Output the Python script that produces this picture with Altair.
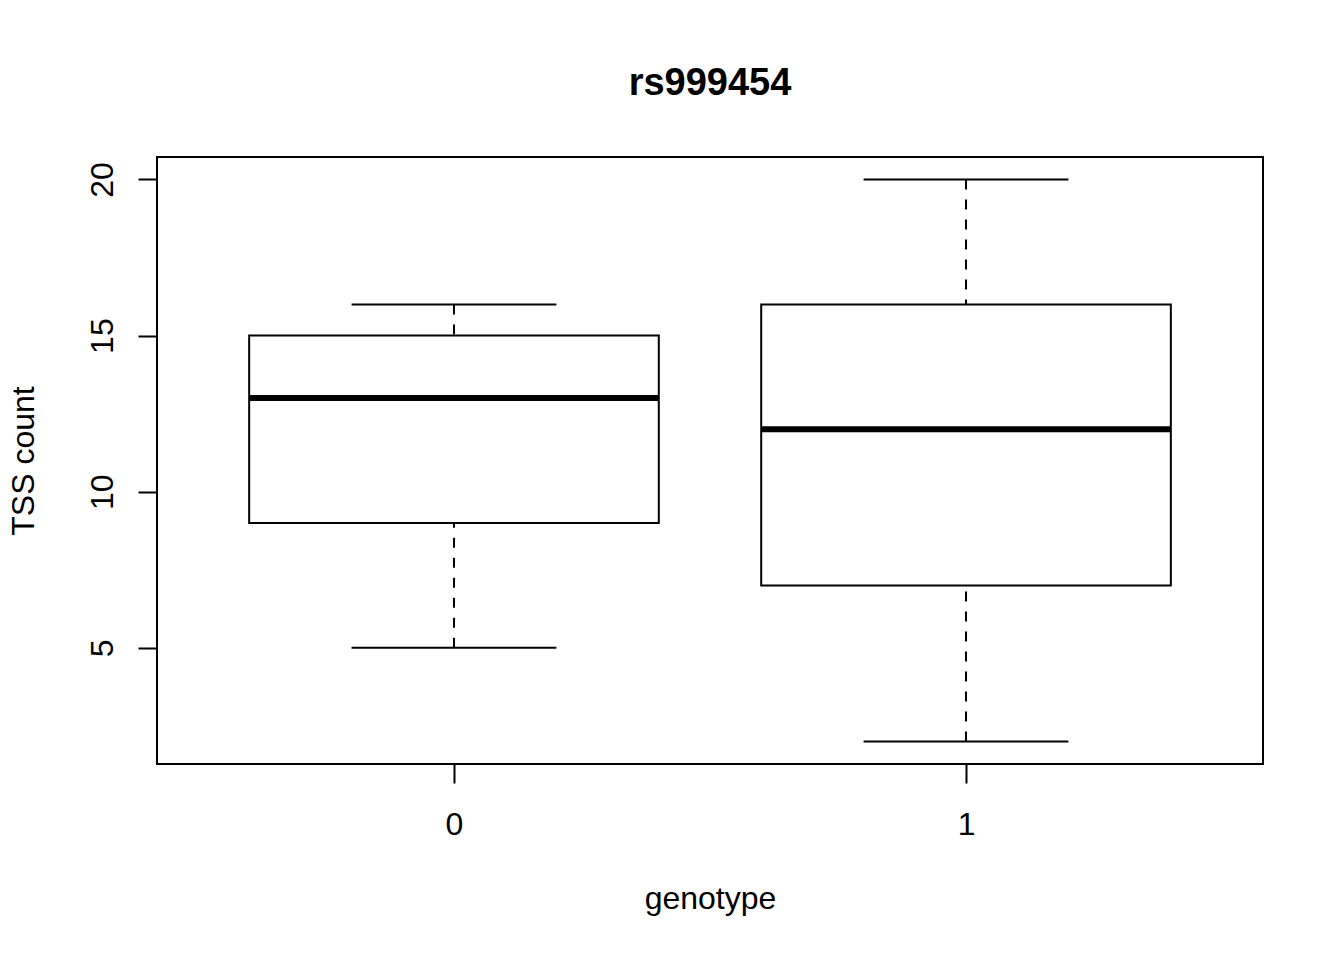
import altair as alt
import pandas as pd

genotype = ["0", "1"]
whisker_low = [5, 2]
q1 = [9, 7]
median = [13, 12]
q3 = [15, 16]
whisker_high = [16, 20]

df = pd.DataFrame({
    "genotype": genotype,
    "pos": [i + 1 for i in range(len(genotype))],
    "low": whisker_low,
    "q1": q1,
    "median": median,
    "q3": q3,
    "high": whisker_high,
})

FONT = "Liberation Sans"
label_expr = " : ".join(
    [f"datum.value == {i + 1} ? '{g}'" for i, g in enumerate(genotype)]
) + " : ''"

xscale = alt.Scale(domain=[0.42, 2.58], nice=False, zero=False)
yscale = alt.Scale(domain=[1.28, 20.72], nice=False, zero=False)

xaxis = alt.Axis(
    values=[1, 2], labelExpr=label_expr, title="genotype", grid=False, domain=False,
    tickSize=19, tickWidth=2, tickColor="black",
    labelFont=FONT, labelFontSize=32, labelColor="black",
    labelBaseline="alphabetic", labelPadding=51,
    titleFont=FONT, titleFontSize=32, titleFontWeight="normal", titleColor="black",
    titleBaseline="alphabetic", titleY=144,
)
yaxis = alt.Axis(
    values=[5, 10, 15, 20], title="TSS count", grid=False, domain=False,
    tickSize=19, tickWidth=2, tickColor="black",
    labelFont=FONT, labelFontSize=32, labelColor="black",
    labelAngle=270, labelAlign="center", labelBaseline="alphabetic", labelPadding=26,
    titleFont=FONT, titleFontSize=32, titleFontWeight="normal", titleColor="black",
    titleAngle=270, titleBaseline="alphabetic", titleX=-124,
)

base = alt.Chart(df).transform_calculate(
    left="datum.pos - 0.4", right="datum.pos + 0.4",
    capl="datum.pos - 0.2", capr="datum.pos + 0.2",
)

whisk_lo = base.mark_rule(color="black", strokeWidth=2, strokeDash=[10, 10]).encode(
    x=alt.X("pos:Q", scale=xscale, axis=xaxis),
    y=alt.Y("low:Q", scale=yscale, axis=yaxis),
    y2="q1:Q",
)
whisk_hi = base.mark_rule(color="black", strokeWidth=2, strokeDash=[10, 10]).encode(
    x=alt.X("pos:Q", scale=xscale),
    y=alt.Y("high:Q", scale=yscale),
    y2="q3:Q",
)
cap_lo = base.mark_rule(color="black", strokeWidth=2).encode(
    x=alt.X("capl:Q", scale=xscale), x2="capr:Q",
    y=alt.Y("low:Q", scale=yscale),
)
cap_hi = base.mark_rule(color="black", strokeWidth=2).encode(
    x=alt.X("capl:Q", scale=xscale), x2="capr:Q",
    y=alt.Y("high:Q", scale=yscale),
)
box = base.mark_rect(fill="white", stroke="black", strokeWidth=2).encode(
    x=alt.X("left:Q", scale=xscale), x2="right:Q",
    y=alt.Y("q1:Q", scale=yscale), y2="q3:Q",
)
med = base.mark_rule(color="black", strokeWidth=6).encode(
    x=alt.X("left:Q", scale=xscale), x2="right:Q",
    y=alt.Y("median:Q", scale=yscale),
)

chart = alt.layer(whisk_lo, whisk_hi, cap_lo, cap_hi, box, med).properties(
    width=1106, height=607,
    background="white",
    title=alt.TitleParams(
        "rs999454", font=FONT, fontSize=38, fontWeight="bold", color="black",
        anchor="middle", frame="group", baseline="alphabetic", offset=24,
    ),
    autosize=alt.AutoSizeParams(type="none"),
    padding={"left": 149, "top": 149, "right": 60, "bottom": 170},
).configure_view(stroke="black", strokeWidth=2)

chart.save("out.html", embed_options={"renderer": "svg", "actions": False})
